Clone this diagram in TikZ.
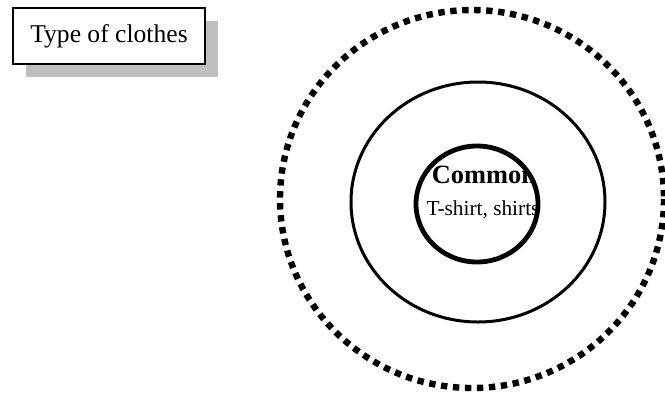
\documentclass[tikz,border=0pt]{standalone}
\usepackage{fontspec}
\setmainfont{Liberation Serif}
\usetikzlibrary{shadows}

\begin{document}
\begin{tikzpicture}[
    x=0.75pt, y=-0.75pt,
    every node/.style={inner sep=0pt},
    titlebox/.style={rectangle, draw, line width=1.2pt, fill=white,
        minimum width=144pt, minimum height=42pt,
        font=\fontsize{19.2}{22}\selectfont,
        drop shadow={shadow xshift=9.75pt, shadow yshift=-9.75pt, fill=black!25, opacity=1}},
    ring/.style={draw, line width=2.25pt},
    corering/.style={draw, line width=3.6pt},
    dotring/.style={draw, line width=4.8pt, dash pattern=on 4.8pt off 4.2pt}
]
\useasboundingbox (0,0) rectangle (665,394);

% title
\node[titlebox] (title) at (109,36) {Type of clothes};

% rings
\draw[dotring] (472,199) ellipse [x radius=192, y radius=189];
\draw[ring] (478,202) ellipse [x radius=127, y radius=120];

% core labels, cut by the inner ring
\begin{scope}
\clip (477,204) ellipse [x radius=61, y radius=58];
\node[font=\bfseries\fontsize{19.8}{23}\selectfont, anchor=base] (common) at (484,183) {Common};
\node[font=\fontsize{16}{19}\selectfont, anchor=base] (items) at (483,215) {T-shirt, shirts};
\end{scope}
\draw[corering] (477,204) ellipse [x radius=61, y radius=58];

\end{tikzpicture}
\end{document}
